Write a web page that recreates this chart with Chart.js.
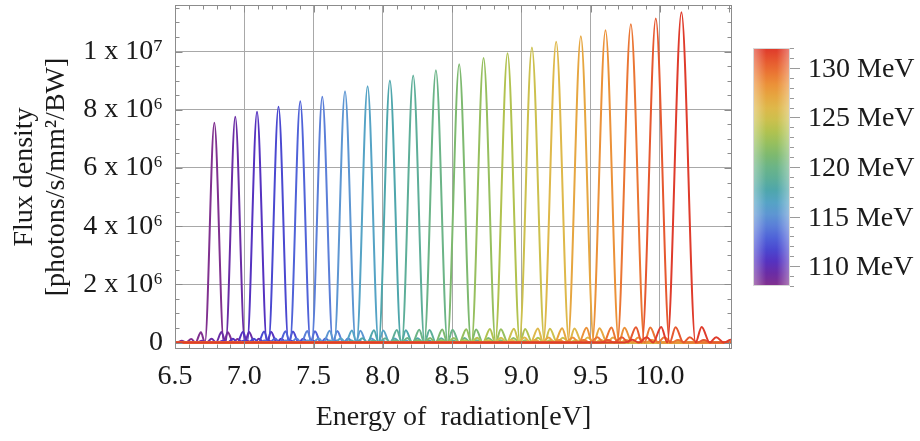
<!DOCTYPE html>
<html><head><meta charset="utf-8">
<script src="https://cdn.jsdelivr.net/npm/chart.js@4.4.1/dist/chart.umd.min.js"></script>
<style>
html,body{margin:0;padding:0;background:#fff;}
#wrap{position:relative;width:920px;height:441px;overflow:hidden;}
#c{position:absolute;left:0;top:0;}
#bar{position:absolute;left:753px;top:48px;width:37px;height:238px;box-sizing:border-box;border:1px solid #d8d8d8;}
#barShade{position:absolute;left:0;top:0;right:0;bottom:0;background:linear-gradient(to right,rgba(255,255,255,0.35),rgba(255,255,255,0) 35%,rgba(255,255,255,0) 65%,rgba(255,255,255,0.35));}
.lbl{position:absolute;left:808px;font-family:'Liberation Serif',serif;font-size:28px;line-height:28px;color:#1a1a1a;white-space:nowrap;transform:translateY(-50%);}
</style></head><body>
<div id="wrap"><canvas id="c" width="920" height="441"></canvas><div id="bar"><div id="barShade"></div></div></div>
<script>
// ---- data (energy in eV, flux in units of 10^6 photons/s/mm²/BW) ----
const beamEnergy = [108, 109.2, 110.4, 111.6, 112.8, 114, 115.2, 116.4, 117.6, 118.8, 120, 121.2, 122.4, 123.6, 124.8, 126, 127.2, 128.4, 129.6, 130.8, 132];
const xTickValues = [6.5, 7.0, 7.5, 8.0, 8.5, 9.0, 9.5, 10.0];
const xTickLabels = ['6.5', '7.0', '7.5', '8.0', '8.5', '9.0', '9.5', '10.0'];
const yTickValues = [0, 2, 4, 6, 8, 10];
const yTickLabels = ['0', '2 x 10\u2076', '4 x 10\u2076', '6 x 10\u2076', '8 x 10\u2076', '1 x 10\u2077'];
const legendValues = [110, 115, 120, 125, 130];
const legendLabels = ['110 MeV', '115 MeV', '120 MeV', '125 MeV', '130 MeV'];

const s01 = [[6.5,0],[6.513,0],[6.549,0.063],[6.581,0],[6.617,0.125],[6.648,0],[6.687,0.356],[6.716,0],[6.784,7.55],[6.852,0],[6.881,0.356],[6.920,0],[6.951,0.125],[6.987,0],[7.019,0.063],[7.055,0],[10.6,0]];
const s02 = [[6.5,0],[6.658,0],[6.694,0.064],[6.727,0],[6.764,0.128],[6.796,0],[6.836,0.366],[6.866,0],[6.935,7.76],[7.004,0],[7.034,0.366],[7.074,0],[7.106,0.128],[7.143,0],[7.176,0.064],[7.212,0],[10.6,0]];
const s03 = [[6.5,0],[6.808,0],[6.846,0.066],[6.879,0],[6.918,0.131],[6.950,0],[6.991,0.374],[7.021,0],[7.092,7.93],[7.163,0],[7.193,0.374],[7.234,0],[7.266,0.131],[7.305,0],[7.338,0.066],[7.376,0],[10.6,0]];
const s04 = [[6.5,0],[6.957,0],[6.996,0.067],[7.030,0],[7.069,0.134],[7.102,0],[7.143,0.382],[7.175,0],[7.247,8.10],[7.319,0],[7.351,0.382],[7.392,0],[7.425,0.134],[7.464,0],[7.498,0.067],[7.537,0],[10.6,0]];
const s05 = [[6.5,0],[7.108,0],[7.147,0.069],[7.182,0],[7.222,0.137],[7.256,0],[7.298,0.391],[7.330,0],[7.404,8.29],[7.478,0],[7.510,0.391],[7.552,0],[7.586,0.137],[7.626,0],[7.661,0.069],[7.700,0],[10.6,0]];
const s06 = [[6.5,0],[7.261,0],[7.301,0.070],[7.336,0],[7.377,0.139],[7.412,0],[7.455,0.399],[7.487,0],[7.563,8.45],[7.639,0],[7.671,0.399],[7.714,0],[7.749,0.139],[7.790,0],[7.825,0.070],[7.865,0],[10.6,0]];
const s07 = [[6.5,0],[7.418,0],[7.459,0.072],[7.495,0],[7.537,0.143],[7.572,0],[7.616,0.408],[7.650,0],[7.727,8.64],[7.804,0],[7.838,0.408],[7.882,0],[7.917,0.143],[7.959,0],[7.995,0.072],[8.036,0],[10.6,0]];
const s08 = [[6.5,0],[7.574,0],[7.616,0.073],[7.653,0],[7.696,0.145],[7.732,0],[7.777,0.416],[7.811,0],[7.890,8.81],[7.969,0],[8.003,0.416],[8.048,0],[8.084,0.145],[8.127,0],[8.164,0.073],[8.206,0],[10.6,0]];
const s09 = [[6.5,0],[7.729,0],[7.772,0.075],[7.809,0],[7.853,0.149],[7.890,0],[7.936,0.425],[7.970,0],[8.051,9.01],[8.132,0],[8.166,0.425],[8.212,0],[8.249,0.149],[8.293,0],[8.330,0.075],[8.373,0],[10.6,0]];
const s10 = [[6.5,0],[7.890,0],[7.934,0.076],[7.972,0],[8.017,0.151],[8.055,0],[8.101,0.433],[8.137,0],[8.219,9.18],[8.301,0],[8.337,0.433],[8.383,0],[8.421,0.151],[8.466,0],[8.504,0.076],[8.548,0],[10.6,0]];
const s11 = [[6.5,0],[8.048,0],[8.092,0.078],[8.132,0],[8.177,0.154],[8.215,0],[8.263,0.442],[8.299,0],[8.383,9.36],[8.467,0],[8.503,0.442],[8.551,0],[8.589,0.154],[8.634,0],[8.674,0.078],[8.718,0],[10.6,0]];
const s12 = [[6.5,0],[8.209,0],[8.254,0.079],[8.294,0],[8.341,0.158],[8.380,0],[8.429,0.451],[8.465,0],[8.551,9.56],[8.637,0],[8.673,0.451],[8.722,0],[8.761,0.158],[8.808,0],[8.848,0.079],[8.893,0],[10.6,0]];
const s13 = [[6.5,0],[8.378,0],[8.424,0.081],[8.465,0],[8.512,0.161],[8.552,0],[8.602,0.462],[8.640,0],[8.727,9.78],[8.814,0],[8.852,0.462],[8.902,0],[8.942,0.161],[8.989,0],[9.030,0.081],[9.076,0],[10.6,0]];
const s14 = [[6.5,0],[8.544,0],[8.591,0.083],[8.633,0],[8.681,0.164],[8.722,0],[8.773,0.469],[8.811,0],[8.900,9.94],[8.989,0],[9.027,0.469],[9.078,0],[9.119,0.164],[9.167,0],[9.209,0.083],[9.256,0],[10.6,0]];
const s15 = [[6.5,0],[8.713,0],[8.761,0.084],[8.804,0],[8.853,0.167],[8.894,0],[8.946,0.479],[8.985,0],[9.076,10.14],[9.167,0],[9.206,0.479],[9.258,0],[9.299,0.167],[9.348,0],[9.391,0.084],[9.439,0],[10.6,0]];
const s16 = [[6.5,0],[8.881,0],[8.930,0.086],[8.973,0],[9.023,0.171],[9.066,0],[9.119,0.488],[9.158,0],[9.251,10.34],[9.344,0],[9.383,0.488],[9.436,0],[9.479,0.171],[9.529,0],[9.572,0.086],[9.621,0],[10.6,0]];
const s17 = [[6.5,0],[9.052,0],[9.102,0.087],[9.146,0],[9.197,0.174],[9.240,0],[9.294,0.497],[9.335,0],[9.429,10.53],[9.523,0],[9.564,0.497],[9.618,0],[9.661,0.174],[9.712,0],[9.756,0.087],[9.806,0],[10.6,0]];
const s18 = [[6.5,0],[9.223,0],[9.274,0.089],[9.319,0],[9.371,0.177],[9.415,0],[9.470,0.506],[9.511,0],[9.607,10.73],[9.703,0],[9.744,0.506],[9.799,0],[9.843,0.177],[9.895,0],[9.940,0.089],[9.991,0],[10.6,0]];
const s19 = [[6.5,0],[9.398,0],[9.450,0.091],[9.496,0],[9.549,0.181],[9.594,0],[9.650,0.516],[9.692,0],[9.790,10.94],[9.888,0],[9.930,0.516],[9.986,0],[10.031,0.181],[10.084,0],[10.130,0.091],[10.182,0],[10.6,0]];
const s20 = [[6.5,0],[9.571,0],[9.624,0.092],[9.671,0],[9.725,0.184],[9.771,0],[9.827,0.526],[9.870,0],[9.970,11.14],[10.070,0],[10.113,0.526],[10.169,0],[10.215,0.184],[10.269,0],[10.316,0.092],[10.369,0],[10.6,0]];
const s21 = [[6.5,0],[9.747,0],[9.801,0.094],[9.849,0],[9.904,0.187],[9.951,0],[10.009,0.536],[10.053,0],[10.155,11.35],[10.257,0],[10.301,0.536],[10.359,0],[10.406,0.187],[10.461,0],[10.509,0.094],[10.563,0],[10.6,0]];
const spectra = [s01,s02,s03,s04,s05,s06,s07,s08,s09,s10,s11,s12,s13,s14,s15,s16,s17,s18,s19,s20,s21];

// ---- style ----
const barMin = 108, barMax = 132;
const rainbow = ['#80308f','#6a2ca5','#5532c0','#4a48d0','#4f62d8','#5a7ed8','#5d96d2','#55a3c5','#4ea6ac','#5dae98','#6bb487','#7db96f','#96bf5e','#b1c24f','#ccc04d','#deb84a','#e6a640','#eb9138','#ea7533','#e6582f','#df3b2b'];
function hexToRgb(h){return [parseInt(h.slice(1,3),16),parseInt(h.slice(3,5),16),parseInt(h.slice(5,7),16)];}
function colorAt(f){
  f = Math.max(0, Math.min(1, f));
  const p = f*(rainbow.length-1), i = Math.min(rainbow.length-2, Math.floor(p)), t = p - i;
  const a = hexToRgb(rainbow[i]), b = hexToRgb(rainbow[i+1]);
  return 'rgb(' + a.map((v,k)=>Math.round(v+(b[k]-v)*t)).join(',') + ')';
}
document.getElementById('bar').style.background = 'linear-gradient(to top,' + rainbow.map((c,i)=>c+' '+(i/(rainbow.length-1)*100).toFixed(1)+'%').join(',') + ')';
const barTop = 48, barH = 238;
legendValues.forEach((v,i)=>{
  const d = document.createElement('div');
  d.className = 'lbl';
  d.textContent = legendLabels[i];
  d.style.top = (barTop + (barMax - v)/(barMax-barMin)*barH) + 'px';
  document.getElementById('wrap').appendChild(d);
});

const serif = "'Liberation Serif', 'Times New Roman', serif";
Chart.defaults.font.family = serif;

const framePlugin = {
  id: 'frame',
  afterDraw(chart){
    const {ctx, chartArea: a, scales: {x, y}} = chart;
    ctx.save();
    ctx.strokeStyle = '#8c8c8c';
    ctx.lineWidth = 1;
    const L = Math.round(a.left)+0.5, R = Math.round(a.right)-0.5, T = Math.round(a.top)+0.5, B = Math.round(a.bottom)-0.5;
    ctx.strokeRect(L, T, R-L, B-T);
    ctx.beginPath();
    for (let k = 65; k <= 105; k++){
      const px = Math.round(x.getPixelForValue(k/10))+0.5;
      const len = (k % 5 === 0) ? 7 : 4;
      ctx.moveTo(px, B); ctx.lineTo(px, B-len);
      ctx.moveTo(px, T); ctx.lineTo(px, T+len);
    }
    for (let k = 0; k <= 23; k++){
      const py = Math.round(y.getPixelForValue(k*0.5))+0.5;
      const len = (k % 4 === 0) ? 7 : 4;
      ctx.moveTo(L, py); ctx.lineTo(L+len, py);
      ctx.moveTo(R, py); ctx.lineTo(R-len, py);
    }
    ctx.stroke();
    ctx.strokeStyle = '#9a9a9a';
    ctx.beginPath();
    for (let v = barMin; v <= barMax; v++){
      const py = Math.round(barTop + (barMax - v)/(barMax-barMin)*barH)+0.5;
      const len = (v % 5 === 0) ? 10 : 4;
      ctx.moveTo(790, py); ctx.lineTo(790+len, py);
    }
    ctx.stroke();
    ctx.restore();
  }
};

const datasets = spectra.map((d,i)=>({
  data: d,
  borderColor: colorAt((beamEnergy[i]-barMin)/(barMax-barMin)),
  borderWidth: 2,
  pointRadius: 0,
  fill: false,
  cubicInterpolationMode: 'monotone',
  order: spectra.length - i
}));

new Chart(document.getElementById('c'), {
  type: 'line',
  data: { datasets },
  options: {
    responsive: false,
    animation: false,
    devicePixelRatio: 1,
    layout: { padding: { left: 0, top: 5, right: 188, bottom: 0 } },
    plugins: { legend: { display: false }, tooltip: { enabled: false } },
    scales: {
      x: {
        type: 'linear', min: 6.5, max: 10.52,
        afterFit(s){ s.height = 92; s.paddingLeft = 0; s.paddingRight = 0; },
        afterBuildTicks(s){ s.ticks = xTickValues.map(v=>({value:v})); },
        grid: { color: '#a8a8a8', lineWidth: 1, drawTicks: false },
        border: { display: false },
        ticks: {
          autoSkip: false, maxRotation: 0, padding: 11, color: '#1a1a1a',
          font: { family: serif, size: 28 },
          callback(v){ const i = xTickValues.indexOf(v); return i >= 0 ? xTickLabels[i] : ''; }
        },
        title: { display: true, text: 'Energy of  radiation[eV]', color: '#1a1a1a',
          font: { family: serif, size: 28, lineHeight: 1.15 }, padding: { top: 0, bottom: 7 } }
      },
      y: {
        type: 'linear', min: -0.22, max: 11.6,
        afterFit(s){ s.width = 175; s.paddingTop = 0; s.paddingBottom = 0; },
        afterBuildTicks(s){ s.ticks = yTickValues.map(v=>({value:v})); },
        grid: { color: '#a8a8a8', lineWidth: 1, drawTicks: false },
        border: { display: false },
        ticks: {
          autoSkip: false, padding: 12, color: '#1a1a1a',
          font: { family: serif, size: 28 },
          callback(v){ const i = yTickValues.indexOf(v); return i >= 0 ? yTickLabels[i] : ''; }
        },
        title: { display: true, text: ['Flux density', '[photons/s/mm\u00b2/BW]'], color: '#1a1a1a',
          font: { family: serif, size: 28, lineHeight: 1.14 }, padding: { top: 9, bottom: 0 } }
      }
    }
  },
  plugins: [framePlugin]
});
</script>
</body></html>
